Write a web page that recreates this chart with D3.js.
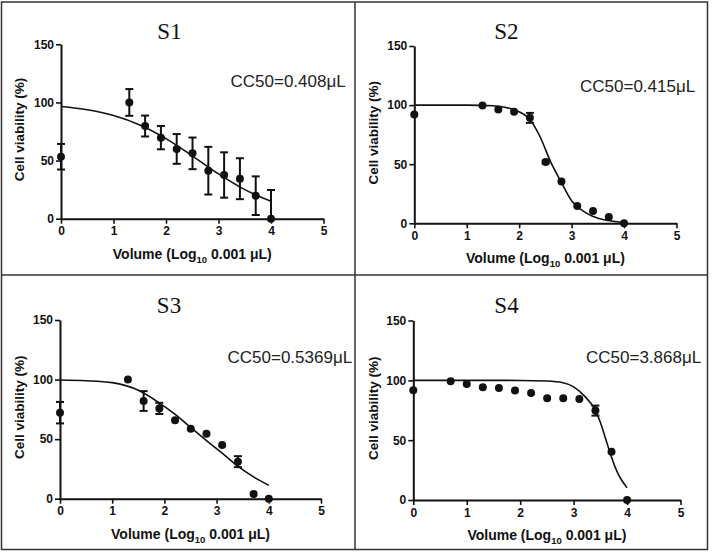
<!DOCTYPE html>
<html>
<head>
<meta charset="utf-8">
<script src="https://cdn.jsdelivr.net/npm/d3@7"></script>
<style>
  html, body { margin: 0; padding: 0; background: #fff; }
  svg { display: block; }
</style>
</head>
<body>
<svg id="chart" width="712" height="553"></svg>
<script>
// ---------------- DATA ----------------
const panelTitles = ["S1", "S2", "S3", "S4"];
const cc50Labels = ["CC50=0.408\u03bcL", "CC50=0.415\u03bcL", "CC50=0.5369\u03bcL", "CC50=3.868\u03bcL"];
const xTicks = [0, 1, 2, 3, 4, 5];
const yTicks = [0, 50, 100, 150];

const doseX = [0, 1.301, 1.602, 1.903, 2.204, 2.505, 2.806, 3.107, 3.408, 3.709, 4.0];
const doseX4 = [0, 0.699, 1.0, 1.301, 1.602, 1.903, 2.204, 2.505, 2.806, 3.107, 3.408, 3.709, 4.0];

const s1Viability = [53.3, 100, 79.7, 69.7, 60, 56.2, 41.3, 37.6, 34.4, 19.8, 0];
const s1Error     = [11, 11.5, 9, 10, 12.8, 13.6, 20.5, 19.5, 17.6, 16.6, 24.7];
const s1CurveX = [0, 0.5, 1, 1.5, 2, 2.5, 3, 3.5, 4];
const s1CurveY = [96.5, 93.7, 88.7, 80.6, 68.9, 54.1, 38.5, 25, 15];

const s2Viability = [92, 99.6, 96.2, 94.3, 89.2, 51.8, 35.4, 14.7, 10.5, 5.4, 0];
const s2Error     = [0, 0, 0, 0, 4.2, 1.2, 0, 0, 0, 0, 0];
const s2CurveX = [0, 1, 1.5, 1.9, 2.2, 2.4, 2.6, 2.8, 3.0, 3.2, 3.4, 3.7, 4.0];
const s2CurveY = [100, 100, 99.5, 96, 88, 73, 52, 35, 19, 11, 6, 2.3, 0.7];

const s3Viability = [72.2, 100, 82, 75.8, 65.8, 58.8, 54.6, 45.1, 31.1, 3.9, 0];
const s3Error     = [9, 0, 8.3, 4.7, 0, 0, 0, 0, 4.6, 0, 0];
const s3CurveX = [0, 0.5, 1, 1.5, 1.9, 2.2, 2.5, 2.8, 3.1, 3.4, 3.7, 4.0];
const s3CurveY = [99.6, 99, 97.4, 91, 80.5, 71, 60, 49, 38.5, 27.5, 18.5, 11.2];

const s4Viability = [91.7, 99.2, 96.9, 94.2, 93.6, 91.4, 89.4, 85, 85, 84.4, 74.7, 40.3, 0];
const s4Error     = [0, 0, 0, 0, 0, 0, 0, 0, 0, 0, 4.2, 0, 0];
const s4CurveX = [0, 1, 2, 2.5, 2.8, 3.0, 3.2, 3.4, 3.5, 3.6, 3.7, 3.8, 3.9, 4.0];
const s4CurveY = [100, 100, 99.9, 99.4, 98, 94.5, 87, 75.5, 65, 51, 37, 25, 16.5, 10.3];

// ---------------- LAYOUT ----------------
const layout = [
  { x0: 61,    x5: 323.5, y0: 218.7, y150: 44.3,  titleX: 169.5, titleY: 39,    ccX: 230.5, ccY: 87,    ylx: 19 },
  { x0: 414.3, x5: 676.5, y0: 223.3, y150: 46,    titleX: 506.3, titleY: 39,    ccX: 580,   ccY: 91.5,  ylx: 373 },
  { x0: 60,    x5: 321,   y0: 498.7, y150: 320,   titleX: 169,   titleY: 313.3, ccX: 227.5, ccY: 363.3, ylx: 19 },
  { x0: 413.3, x5: 680.5, y0: 500,   y150: 320.5, titleX: 506.5, titleY: 312.7, ccX: 586,   ccY: 363.3, ylx: 372.7 }
];

const series = [
  { x: doseX,  y: s1Viability, e: s1Error, cx: s1CurveX, cy: s1CurveY },
  { x: doseX,  y: s2Viability, e: s2Error, cx: s2CurveX, cy: s2CurveY },
  { x: doseX,  y: s3Viability, e: s3Error, cx: s3CurveX, cy: s3CurveY },
  { x: doseX4, y: s4Viability, e: s4Error, cx: s4CurveX, cy: s4CurveY }
];

const svg = d3.select("#chart");
svg.append("rect").attr("width", 712).attr("height", 553).attr("fill", "#fff");

const sans = "'Liberation Sans', Arial, sans-serif";
const serif = "'Liberation Serif', 'Times New Roman', serif";
const ink = "#111";

series.forEach((s, i) => {
  const L = layout[i];
  const x = d3.scaleLinear().domain([0, 5]).range([L.x0, L.x5]);
  const y = d3.scaleLinear().domain([0, 150]).range([L.y0, L.y150]);
  const g = svg.append("g");

  // axes
  const xAxis = d3.axisBottom(x).tickValues(xTicks).tickSizeInner(5).tickSizeOuter(0).tickPadding(3).tickFormat(d3.format("d"));
  const yAxis = d3.axisLeft(y).tickValues(yTicks).tickSizeInner(5).tickSizeOuter(0).tickPadding(2).tickFormat(d3.format("d"));
  const gx = g.append("g").attr("transform", `translate(0,${L.y0})`).call(xAxis);
  const gy = g.append("g").attr("transform", `translate(${L.x0},0)`).call(yAxis);
  [gx, gy].forEach(a => {
    a.select(".domain").attr("stroke", ink).attr("stroke-width", 2);
    a.selectAll(".tick line").attr("stroke", ink).attr("stroke-width", 1.6);
    a.selectAll(".tick text").attr("fill", ink).attr("font-family", sans)
      .attr("font-weight", "bold").attr("font-size", "12px");
  });

  // fitted curve
  const line = d3.line().x(d => x(d[0])).y(d => y(d[1])).curve(d3.curveMonotoneX);
  g.append("path").datum(s.cx.map((v, k) => [v, s.cy[k]]))
    .attr("d", line).attr("fill", "none").attr("stroke", ink).attr("stroke-width", 1.6);

  // error bars
  const pts = s.x.map((v, k) => ({ x: v, y: s.y[k], e: s.e[k] }));
  const eb = g.selectAll(".eb").data(pts.filter(p => p.e > 0)).enter().append("g");
  eb.append("line")
    .attr("x1", d => x(d.x)).attr("x2", d => x(d.x))
    .attr("y1", d => y(Math.max(0, d.y - d.e))).attr("y2", d => y(d.y + d.e))
    .attr("stroke", ink).attr("stroke-width", 2);
  eb.append("line")
    .attr("x1", d => x(d.x) - 4).attr("x2", d => x(d.x) + 4)
    .attr("y1", d => y(d.y + d.e)).attr("y2", d => y(d.y + d.e))
    .attr("stroke", ink).attr("stroke-width", 2);
  eb.filter(d => d.y - d.e > 0).append("line")
    .attr("x1", d => x(d.x) - 4).attr("x2", d => x(d.x) + 4)
    .attr("y1", d => y(d.y - d.e)).attr("y2", d => y(d.y - d.e))
    .attr("stroke", ink).attr("stroke-width", 2);

  // points
  g.selectAll(".pt").data(pts).enter().append("circle")
    .attr("cx", d => x(d.x)).attr("cy", d => y(d.y)).attr("r", 4).attr("fill", ink);

  // title
  g.append("text").attr("x", L.titleX).attr("y", L.titleY).attr("text-anchor", "middle")
    .attr("font-family", serif).attr("font-size", "23px").attr("fill", ink).text(panelTitles[i]);

  // CC50
  g.append("text").attr("x", L.ccX).attr("y", L.ccY)
    .attr("font-family", sans).attr("font-size", "17px").attr("fill", "#222").text(cc50Labels[i]);

  // y label
  const ymid = (L.y0 + L.y150) / 2;
  g.append("text").attr("transform", `translate(${L.ylx + 5},${ymid - 2}) rotate(-90)`)
    .attr("text-anchor", "middle").attr("font-family", sans).attr("font-weight", "bold")
    .attr("font-size", "13.5px").attr("fill", ink).text("Cell viability (%)");

  // x label
  const xl = g.append("text").attr("x", (L.x0 + L.x5) / 2).attr("y", L.y0 + 40)
    .attr("text-anchor", "middle").attr("font-family", sans).attr("font-weight", "bold")
    .attr("font-size", "14px").attr("fill", ink);
  xl.append("tspan").text("Volume (Log");
  xl.append("tspan").attr("font-size", "9.5px").attr("dy", 4).text("10");
  xl.append("tspan").attr("dy", -4).text(" 0.001 \u03bcL)");
});

// panel frame
const frame = svg.append("g").attr("fill", "none").attr("stroke", "#333").attr("stroke-width", 1.5);
frame.append("rect").attr("x", 1.5).attr("y", 2).attr("width", 706).attr("height", 547.5);
frame.append("line").attr("x1", 355).attr("x2", 355).attr("y1", 2).attr("y2", 549.5);
frame.append("line").attr("x1", 1.5).attr("x2", 707.5).attr("y1", 275).attr("y2", 275);
</script>
</body>
</html>
